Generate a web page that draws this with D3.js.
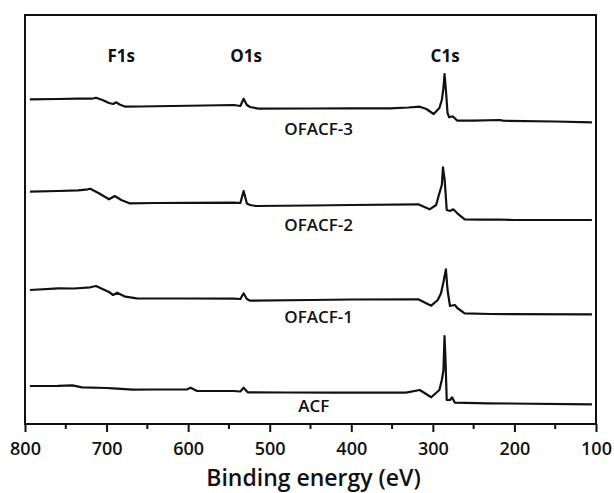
<!DOCTYPE html>
<html>
<head>
<meta charset="utf-8">
<script src="https://cdn.jsdelivr.net/npm/d3@7"></script>
<style>
    body { margin: 0; background: #fff; }
    #chart { width: 614px; height: 493px; }
    text { font-family: 'Open Sans', 'Noto Sans', sans-serif; fill: #111; }
</style>
</head>
<body>
<div id="chart"></div>
<script>
// XPS survey spectra, intensity in arbitrary units (curves already offset)
const acfEnergy = [794, 760, 742, 730, 700, 692, 668, 640, 601, 597, 589, 544, 536, 532, 527, 480, 420, 333, 316, 302, 292, 289, 287, 285.7, 284.5, 283, 279, 276.5, 273, 232, 105];
const acfIntensity = [38, 38.2, 38.7, 36.7, 36, 35.7, 34.3, 34.5, 34.7, 36.3, 33, 33, 32.5, 36.3, 31.7, 31.5, 31.3, 31.3, 34, 26.7, 34, 44, 54, 88, 64, 24, 24, 26.7, 21.3, 20.7, 19.7];

const ofacf1Energy = [794, 759, 740, 720, 713, 705, 697, 692, 687, 677, 663, 600, 544, 536, 532, 528, 524, 450, 400, 318, 302, 294, 290, 287, 284, 282, 279, 273, 270, 261, 230, 105];
const ofacf1Intensity = [134, 135.7, 135.5, 136.7, 138, 135, 132, 129, 131.3, 127.3, 125.7, 125.5, 125.3, 125, 130.7, 125, 123.3, 124, 124.5, 124.7, 118.3, 124, 130.7, 142, 154.7, 134, 118, 119, 116, 110.7, 110, 109.7];

const ofacf2Energy = [794, 760, 735, 723, 720, 710, 697, 690, 682, 672, 640, 600, 544, 536, 532, 528, 524, 517, 450, 400, 318, 304, 296, 292, 289, 287.6, 285.5, 283, 279, 275, 270, 261, 240, 220, 200, 105];
const ofacf2Intensity = [232.3, 233, 233.7, 234.7, 235.3, 231, 224.7, 228, 224, 220.7, 221, 221.2, 221.3, 221, 233, 220.5, 219, 218, 218.5, 219, 219.7, 214.7, 219, 230.7, 239, 256.7, 244, 214, 213, 214.7, 210.7, 204.7, 204.3, 204.5, 204, 204];

const ofacf3Energy = [794, 760, 735, 718, 713, 705, 697, 692, 688, 684, 677, 660, 620, 580, 544, 536, 532, 528, 524, 514, 450, 400, 353, 330, 316, 308, 299, 292, 289, 287, 285.7, 284, 282, 280, 277, 275, 270, 250, 218, 214, 150, 105];
const ofacf3Intensity = [324.7, 325, 325.3, 325.3, 326.2, 324, 321, 320, 321.7, 319.5, 317.3, 317.5, 318, 318.5, 319, 318, 325.3, 319, 317, 315.3, 315.5, 315.7, 315.7, 316.5, 317.3, 315, 310, 316, 324, 336, 350, 334, 311, 306.7, 307.5, 307.3, 303.3, 303.3, 304, 303.3, 302.5, 301.7];

const seriesNames = ['ACF', 'OFACF-1', 'OFACF-2', 'OFACF-3'];
const labelEnergy = [446, 440, 440, 440];
const labelIntensity = [12, 101, 193, 289];

const peakNames = ['F1s', 'O1s', 'C1s'];
const peakEnergy = [682, 529, 285];
const peakLabelIntensity = 362;

const majorTicks = [800, 700, 600, 500, 400, 300, 200, 100];
const minorTicks = [750, 650, 550, 450, 350, 250, 150];

class XpsSurveyChart {
    constructor(container) {
        this.container = container;
        this.width = 614;
        this.height = 493;
        this.margin = { top: 15, right: 18, bottom: 69, left: 25 };
        this.svg = d3.select(container).append('svg')
            .attr('width', this.width)
            .attr('height', this.height);
    }

    draw() {
        const m = this.margin;
        const x = d3.scaleLinear().domain([800, 100]).range([m.left, this.width - m.right]);
        const y = d3.scaleLinear().domain([0, 409]).range([this.height - m.bottom, m.top]);
        const svg = this.svg;

        const series = [
            [acfEnergy, acfIntensity],
            [ofacf1Energy, ofacf1Intensity],
            [ofacf2Energy, ofacf2Intensity],
            [ofacf3Energy, ofacf3Intensity]
        ].map(([e, v]) => e.map((d, i) => ({ energy: d, value: v[i] })));

        const line = d3.line()
            .x(d => x(d.energy))
            .y(d => y(d.value));

        svg.selectAll('path.spectrum')
            .data(series)
            .enter().append('path')
            .attr('class', 'spectrum')
            .attr('d', line)
            .attr('fill', 'none')
            .attr('stroke', '#111')
            .attr('stroke-width', 2.2)
            .attr('stroke-linejoin', 'round');

        // frame around the plot
        svg.append('rect')
            .attr('x', x(800))
            .attr('y', y(409))
            .attr('width', x(100) - x(800))
            .attr('height', y(0) - y(409))
            .attr('fill', 'none')
            .attr('stroke', '#111')
            .attr('stroke-width', 2);

        // bottom axis, major + minor ticks pointing out
        const axis = svg.append('g')
            .attr('transform', `translate(0, ${y(0)})`)
            .call(d3.axisBottom(x).tickValues(majorTicks).tickSize(8).tickFormat(d3.format('d')));
        axis.select('.domain').remove();
        axis.selectAll('line').attr('stroke', '#111').attr('stroke-width', 2);
        axis.selectAll('text')
            .attr('y', 31)
            .attr('dy', 0)
            .style('font-size', '18px')
            .style('font-weight', 600)
            .style('fill', '#111');

        svg.append('g')
            .attr('transform', `translate(0, ${y(0)})`)
            .selectAll('line')
            .data(minorTicks)
            .enter().append('line')
            .attr('x1', d => x(d))
            .attr('x2', d => x(d))
            .attr('y1', 0)
            .attr('y2', 5)
            .attr('stroke', '#111')
            .attr('stroke-width', 2);

        svg.append('text')
            .attr('x', (x(800) + x(100)) / 2 + 3)
            .attr('y', 486)
            .attr('text-anchor', 'middle')
            .style('font-size', '23px')
            .style('font-weight', 600)
            .text('Binding energy (eV)');

        svg.selectAll('text.series-label')
            .data(seriesNames)
            .enter().append('text')
            .attr('class', 'series-label')
            .attr('x', (d, i) => x(labelEnergy[i]))
            .attr('y', (d, i) => y(labelIntensity[i]))
            .attr('text-anchor', 'middle')
            .style('font-size', '17px')
            .style('font-weight', 600)
            .text(d => d);

        svg.selectAll('text.peak-label')
            .data(peakNames)
            .enter().append('text')
            .attr('class', 'peak-label')
            .attr('x', (d, i) => x(peakEnergy[i]))
            .attr('y', y(peakLabelIntensity))
            .attr('text-anchor', 'middle')
            .style('font-size', '17px')
            .style('font-weight', 700)
            .text(d => d);
    }
}

const chart = new XpsSurveyChart(document.getElementById('chart'));
chart.draw();
</script>
</body>
</html>
